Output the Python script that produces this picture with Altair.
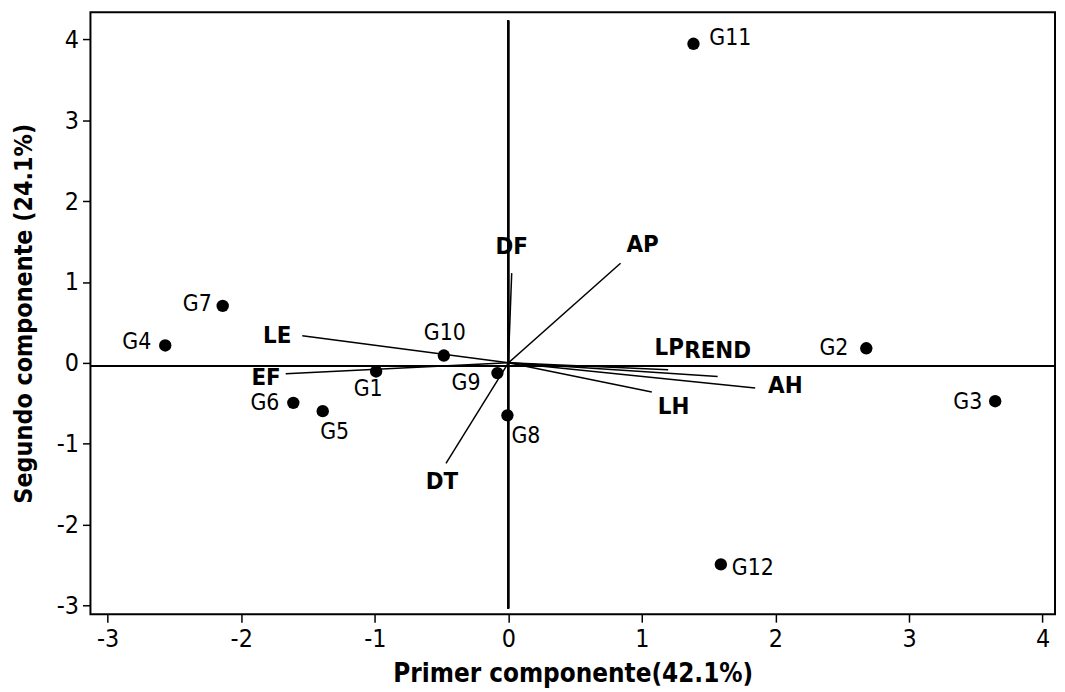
import altair as alt
import pandas as pd

# Genotype scores
genotypes = ["G1", "G2", "G3", "G4", "G5", "G6", "G7", "G8", "G9", "G10", "G11", "G12"]
pc1 = [-0.99, 2.68, 3.645, -2.569, -1.39, -1.61, -2.139, -0.007, -0.082, -0.483, 1.386, 1.591]
pc2 = [-0.107, 0.18, -0.475, 0.215, -0.598, -0.495, 0.704, -0.65, -0.127, 0.09, 3.947, -2.494]

# Variable loadings (vectors)
variables = ["DF", "AP", "LE", "EF", "DT", "LP", "REND", "AH", "LH"]
load1 = [0.025, 0.84, -1.543, -1.667, -0.467, 1.197, 1.567, 1.848, 1.074]
load2 = [1.11, 1.232, 0.335, -0.135, -1.245, -0.086, -0.168, -0.311, -0.36]

x_ticks = [-3, -2, -1, 0, 1, 2, 3, 4]
y_ticks = [-3, -2, -1, 0, 1, 2, 3, 4]
x_domain = [-3.129, 4.093]
y_domain = [-3.11, 4.337]

pts = pd.DataFrame({"name": genotypes, "pc1": pc1, "pc2": pc2})
vec = pd.DataFrame({"name": variables, "pc1": load1, "pc2": load2})

FONT = "DejaVu Sans Condensed, DejaVu Sans"

# label placement styles (align, dx, dy)
pt_style = {
    "G1": ("center", -8, 18), "G2": ("right", -18, 0), "G3": ("right", -13, 1),
    "G4": ("right", -14, -3), "G5": ("center", 12, 21), "G6": ("right", -14, 0),
    "G7": ("right", -11, -2), "G8": ("left", 4, 21), "G9": ("right", -17, 10),
    "G10": ("center", 1, -23), "G11": ("left", 16, -6), "G12": ("left", 11, 4),
}
vec_style = {
    "DF": ("center", 0, -26), "AP": ("left", 6, -18), "LE": ("right", -11, 0),
    "EF": ("right", -5, 4), "DT": ("center", -4, 19), "LP": ("center", 1, -22),
    "REND": ("center", 0, -26), "AH": ("left", 13, -2), "LH": ("left", 6, 15),
}

xs = alt.Scale(domain=x_domain, nice=False, zero=False)
ys = alt.Scale(domain=y_domain, nice=False, zero=False)

X = alt.X("pc1:Q", scale=xs, axis=alt.Axis(
    values=x_ticks, labelExpr="'' + datum.value",
    title="Primer componente(42.1%)", titleY=60, titleBaseline="middle"))
Y = alt.Y("pc2:Q", scale=ys, axis=alt.Axis(
    values=y_ticks, labelExpr="'' + datum.value",
    title="Segundo componente (24.1%)", titleX=-67, titleBaseline="middle",
    titleAngle=-90, titleFontSize=25))

base_pts = alt.Chart(pts)
base_vec = alt.Chart(vec)

hline = alt.Chart(pts).mark_rule(color="black", strokeWidth=1.5).encode(
    x=alt.datum(x_domain[0], scale=xs), x2=alt.datum(x_domain[1]),
    y=alt.datum(-0.035, scale=ys))
vline = alt.Chart(pts).mark_rule(color="black", strokeWidth=1.5).encode(
    x=alt.datum(0, scale=xs), y=alt.datum(-3.04, scale=ys), y2=alt.datum(4.235))

vectors = base_vec.mark_rule(color="black", strokeWidth=1.5).encode(
    x=X, y=Y, x2=alt.datum(0), y2=alt.datum(0))

points = base_pts.mark_circle(size=155, color="black", opacity=1).encode(x=X, y=Y)

layers = [hline, vline, vectors, points]
for n, (al, dx, dy) in pt_style.items():
    layers.append(base_pts.transform_filter(alt.datum.name == n).mark_text(
        align=al, baseline="middle", dx=dx, dy=dy, font=FONT, fontSize=23, color="black"
    ).encode(x=X, y=Y, text="name:N"))
for n, (al, dx, dy) in vec_style.items():
    layers.append(base_vec.transform_filter(alt.datum.name == n).mark_text(
        align=al, baseline="middle", dx=dx, dy=dy, font=FONT, fontSize=24, fontWeight="bold",
        color="black"
    ).encode(x=X, y=Y, text="name:N"))

chart = alt.layer(*layers).properties(
    width=971, height=606,
    autosize=alt.AutoSizeParams(type="none"),
    padding={"left": 83, "top": 2, "right": 2, "bottom": 74},
    background="white",
).configure_view(
    stroke="black", strokeWidth=2
).configure_axis(
    grid=False, domain=False, ticks=True, tickColor="black", tickWidth=1.5, tickSize=8,
    labelFont=FONT, labelFontSize=25, labelColor="black", labelPadding=4,
    titleFont=FONT, titleFontSize=26, titleFontWeight="bold", titleColor="black",
)

chart.save("out.html", embed_options={"renderer": "svg", "actions": False})
